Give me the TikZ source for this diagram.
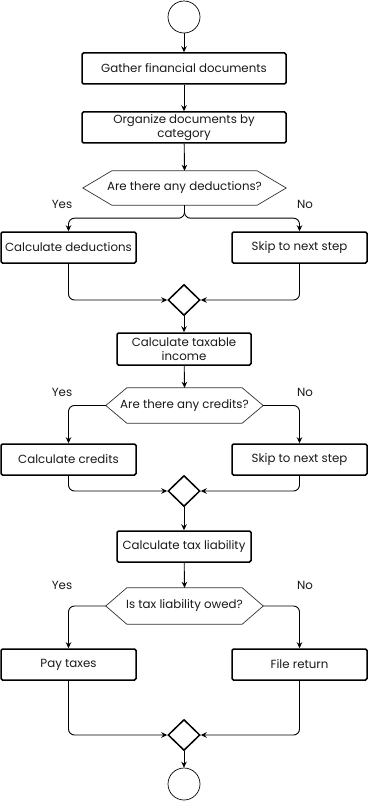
\documentclass[tikz,border=0pt]{standalone}
\usepackage{fontspec}
\setmainfont{Poppins}
\usetikzlibrary{arrows.meta,calc,shapes.geometric}
\begin{document}
\begin{tikzpicture}[x=1pt,y=-1pt,
  txt/.style={font=\fontsize{11.8}{13.5}\selectfont,text=black!90},
  box/.style={txt,draw,line width=1.5pt,rounded corners=1.5pt,inner sep=0pt,align=center},
  hex/.style={txt,inner sep=0pt,align=center},
  hexline/.style={draw=black!80,line width=0.7pt},
  merge/.style={draw,line width=1.5pt,diamond,inner sep=0pt,minimum width=32pt,minimum height=31pt},
  term/.style={draw,line width=0.7pt,circle,inner sep=0pt,minimum size=32pt},
  lbl/.style={txt},
  arr/.style={line width=0.9pt,-{Stealth[length=6pt,width=5.5pt]},rounded corners=6pt}
]
\useasboundingbox (0,0) rectangle (368,802);
\newcommand{\hexdraw}[2]{\draw[hexline] ([xshift=#2]#1.north west) -- ([xshift=-#2]#1.north east) -- (#1.east) -- ([xshift=-#2]#1.south east) -- ([xshift=#2]#1.south west) -- (#1.west) -- cycle;}
% nodes
\node[term] (s) at (184,17) {};
\node[box,minimum width=204pt,minimum height=31pt] (g) at (184,68.5) {Gather financial documents};
\node[box,minimum width=204pt,minimum height=31pt] (o) at (184,127.5) {Organize documents by\\category};
\node[hex,minimum width=203pt,minimum height=34pt] (d1) at (184.5,188) {Are there any deductions?};
\hexdraw{d1}{29}
\node[lbl] (y1) at (62,204) {Yes};
\node[lbl] (n1) at (305,204) {No};
\node[box,minimum width=135pt,minimum height=31pt] (cd) at (68.5,247.5) {Calculate deductions};
\node[box,minimum width=135pt,minimum height=31pt] (sk1) at (299.5,247.5) {Skip to next step};
\node[merge] (m1) at (184,300) {};
\node[box,minimum width=134pt,minimum height=32pt] (ti) at (184,349) {Calculate taxable\\income};
\node[hex,minimum width=157pt,minimum height=35pt] (d2) at (184.5,405.5) {Are there any credits?};
\hexdraw{d2}{21}
\node[lbl] (y2) at (62,392) {Yes};
\node[lbl] (n2) at (305,392) {No};
\node[box,minimum width=135pt,minimum height=31pt] (cc) at (68.5,459.5) {Calculate credits};
\node[box,minimum width=135pt,minimum height=31pt] (sk2) at (299.5,459.5) {Skip to next step};
\node[merge] (m2) at (184,491) {};
\node[box,minimum width=134pt,minimum height=31pt] (tl) at (184,546.5) {Calculate tax liability};
\node[hex,minimum width=157pt,minimum height=36pt] (d3) at (184.5,606) {Is tax liability owed?};
\hexdraw{d3}{21}
\node[lbl] (y3) at (62,585) {Yes};
\node[lbl] (n3) at (305,585) {No};
\node[box,minimum width=135pt,minimum height=31pt] (pt) at (68.5,664.5) {Pay taxes};
\node[box,minimum width=135pt,minimum height=31pt] (fr) at (299.5,664.5) {File return};
\node[merge] (m3) at (184,735) {};
\node[term] (e) at (184,784) {};
% connectors
\draw[arr] (s) -- (g);
\draw[arr] (g) -- (o);
\draw[arr] (o) -- (d1.north);
\draw[arr] (d1.south) -- ++(0,13) -| (cd.north);
\draw[arr] (d1.south) -- ++(0,13) -| (sk1.north);
\draw[arr] (cd.south) |- (m1.west);
\draw[arr] (sk1.south) |- (m1.east);
\draw[arr] (m1) -- (ti);
\draw[arr] (ti) -- (d2.north);
\draw[arr] (d2.west) -| (cc.north);
\draw[arr] (d2.east) -| (sk2.north);
\draw[arr] (cc.south) |- (m2.west);
\draw[arr] (sk2.south) |- (m2.east);
\draw[arr] (m2) -- (tl);
\draw[arr] (tl) -- (d3.north);
\draw[arr] (d3.west) -| (pt.north);
\draw[arr] (d3.east) -| (fr.north);
\draw[arr] (pt.south) |- (m3.west);
\draw[arr] (fr.south) |- (m3.east);
\draw[arr] (m3) -- (e);
\end{tikzpicture}
\end{document}
